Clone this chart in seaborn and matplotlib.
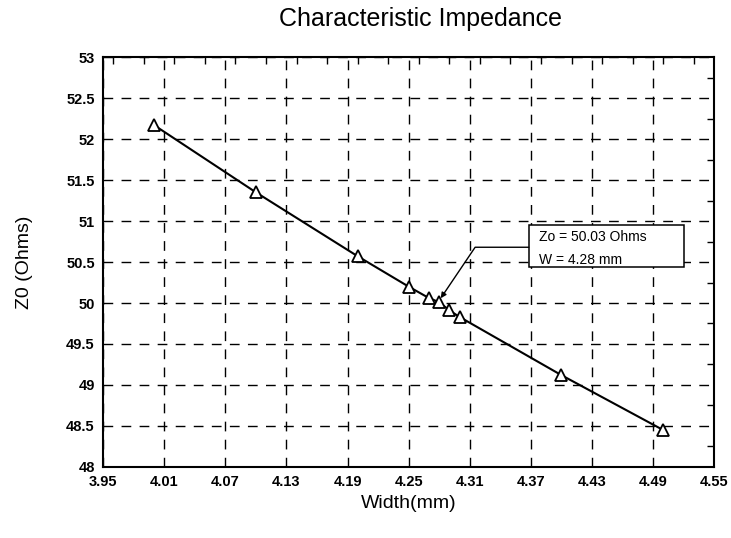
import numpy as np
import pandas as pd
import seaborn as sns
import matplotlib.pyplot as plt
from matplotlib.patches import Rectangle
from matplotlib.ticker import MultipleLocator

# data
width_mm = [4.00, 4.10, 4.20, 4.25, 4.27, 4.28, 4.29, 4.30, 4.40, 4.50]
z0_ohms = [52.17, 51.35, 50.57, 50.20, 50.06, 50.01, 49.91, 49.83, 49.12, 48.45]
x_ticks = [3.95, 4.01, 4.07, 4.13, 4.19, 4.25, 4.31, 4.37, 4.43, 4.49, 4.55]
y_ticks = [48, 48.5, 49, 49.5, 50, 50.5, 51, 51.5, 52, 52.5, 53]
note_lines = ["Zo = 50.03 Ohms", "W = 4.28 mm"]
note_point = (4.28, 50.03)

df = pd.DataFrame({"Width(mm)": width_mm, "Z0 (Ohms)": z0_ohms})

sns.set_style("white")
plt.rcParams["font.family"] = ["Liberation Sans", "DejaVu Sans"]
plt.rcParams["text.color"] = "black"
plt.rcParams["axes.labelcolor"] = "black"

fig, ax = plt.subplots(figsize=(7.31, 5.38), dpi=100)
fig.subplots_adjust(left=0.141, right=0.977, bottom=0.132, top=0.894)

sns.lineplot(data=df, x="Width(mm)", y="Z0 (Ohms)", ax=ax, color="black",
             linewidth=1.5, marker="^", markersize=9, markerfacecolor="white",
             markeredgecolor="black", markeredgewidth=1.3, zorder=5)

ax.set_xlim(x_ticks[0], x_ticks[-1])
ax.set_ylim(y_ticks[0], y_ticks[-1])
ax.set_xticks(x_ticks)
ax.set_yticks(y_ticks)
ax.set_xticklabels([f"{t:.2f}" for t in x_ticks])
ax.set_yticklabels([f"{t:g}" for t in y_ticks])
ax.xaxis.set_minor_locator(MultipleLocator(0.03))
ax.yaxis.set_minor_locator(MultipleLocator(0.25))
ax.tick_params(which="both", direction="in", top=True, right=True, colors="black")
ax.tick_params(which="major", length=0, labelsize=10.5, pad=6)
ax.tick_params(which="minor", length=5, width=1)
for lab in ax.get_xticklabels() + ax.get_yticklabels():
    lab.set_fontweight("bold")

ax.grid(True, which="major", color="black", linestyle=(0, (7, 6)), linewidth=1)
for sp in ax.spines.values():
    sp.set_color("black")
    sp.set_linewidth(1.5)

ax.set_title("Characteristic Impedance", fontsize=18, pad=22, x=0.52, color="black")
ax.set_xlabel("Width(mm)", fontsize=14, labelpad=4)
ax.set_ylabel("Z0 (Ohms)", fontsize=14, labelpad=24)

# callout box
box = Rectangle((4.368, 50.44), 0.152, 0.51, facecolor="white", edgecolor="black",
                linewidth=1.1, zorder=6)
ax.add_patch(box)
ax.text(4.378, 50.80, note_lines[0], fontsize=10, va="center", ha="left", zorder=7)
ax.text(4.378, 50.53, note_lines[1], fontsize=10, va="center", ha="left", zorder=7)
ax.annotate("", xy=note_point, xytext=(4.368, 50.68),
            arrowprops=dict(arrowstyle="-|>", color="black", lw=1,
                            mutation_scale=8, shrinkA=0, shrinkB=2,
                            connectionstyle="angle,angleA=180,angleB=56,rad=0"),
            zorder=7)

fig.savefig("out.png", dpi=100)
